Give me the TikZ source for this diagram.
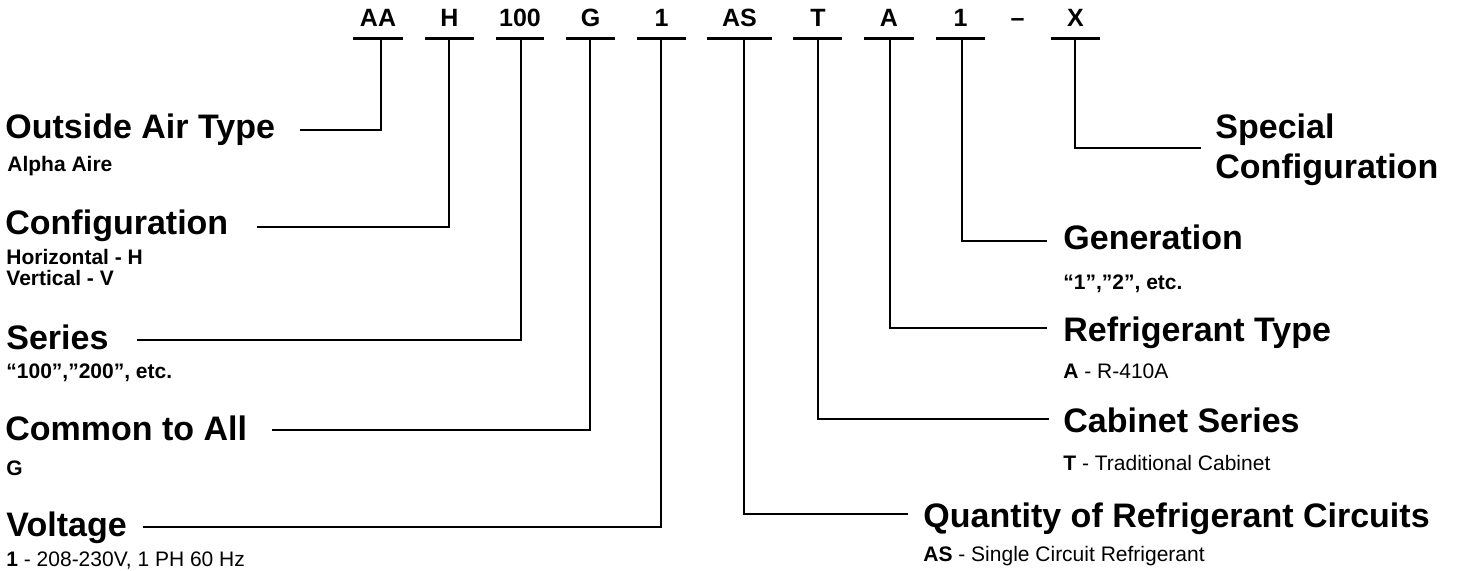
\documentclass[tikz,border=0pt]{standalone}
\usepackage{fontspec}
\setmainfont{Liberation Sans}
\begin{document}
\begin{tikzpicture}[x=0.5pt,y=-0.5pt,
  code/.style={inner sep=0pt,anchor=base,font=\fontsize{12.5}{14}\selectfont\bfseries},
  big/.style={inner sep=0pt,anchor=base west,font=\fontsize{17}{20}\selectfont\bfseries},
  small/.style={inner sep=0pt,anchor=base west,font=\fontsize{10.5}{12}\selectfont\bfseries},
  smallr/.style={inner sep=0pt,anchor=base west,font=\fontsize{10.5}{12}\selectfont},
  ul/.style={line width=1.5pt},
  conn/.style={line width=1.4pt}]
\useasboundingbox (0,0) rectangle (1460,571);
% codes
\node[code] (cAA) at (378,27) {AA};
\node[code] (cH) at (449.5,27) {H};
\node[code] (c100) at (520,27) {100};
\node[code] (cG) at (590.5,27) {G};
\node[code] (c1) at (661.5,27) {1};
\node[code] (cAS) at (739.5,27) {AS};
\node[code] (cT) at (818,27) {T};
\node[code] (cA) at (889,27) {A};
\node[code] (cGen) at (960.5,27) {1};
\node[code] (cDash) at (1017.5,27) {–};
\node[code] (cX) at (1075.5,27) {X};
% underlines
\draw[ul] (353,39) -- (403,39);
\draw[ul] (425,39) -- (474,39);
\draw[ul] (496,39) -- (544,39);
\draw[ul] (566,39) -- (615,39);
\draw[ul] (637,39) -- (686,39);
\draw[ul] (707,39) -- (772,39);
\draw[ul] (793,39) -- (842,39);
\draw[ul] (864,39) -- (914,39);
\draw[ul] (936,39) -- (985,39);
\draw[ul] (1051,39) -- (1100,39);
% connector start points
\coordinate (uAA) at (381,39);
\coordinate (uH) at (449,39);
\coordinate (u100) at (521,39);
\coordinate (uG) at (590,39);
\coordinate (u1) at (661,39);
\coordinate (uAS) at (744,39);
\coordinate (uT) at (818,39);
\coordinate (uA) at (890,39);
\coordinate (uGen) at (962,39);
\coordinate (uX) at (1075,39);
% connector end points
\coordinate (eOAT) at (300,130);
\coordinate (eCfg) at (257,227);
\coordinate (eSer) at (137,340);
\coordinate (eCom) at (272,430);
\coordinate (eVol) at (143,527);
\coordinate (eQty) at (908,514);
\coordinate (eCab) at (1049,419);
\coordinate (eRef) at (1047,328);
\coordinate (eGen) at (1047,241);
\coordinate (eSpc) at (1201,148);
% left labels
\node[big] (lOAT) at (5,139) {Outside Air Type};
\node[small] (sOAT) at (7,172) {Alpha Aire};
\node[big] (lCfg) at (5,235) {Configuration};
\node[small] (sCfg1) at (6,264.3) {Horizontal - H};
\node[small] (sCfg2) at (6,285.7) {Vertical - V};
\node[big] (lSer) at (6,349.3) {Series};
\node[small] (sSer) at (6,379) {“100”,”200”, etc.};
\node[big] (lCom) at (5,440.7) {Common to All};
\node[small] (sCom) at (6,475) {G};
\node[big] (lVol) at (6,536) {Voltage};
\node[smallr] (sVol) at (6,566) {\textbf{1} - 208-230V, 1 PH 60 Hz};
% right labels
\node[big] (lSpc1) at (1215,138.3) {Special};
\node[big] (lSpc2) at (1215,178.3) {Configuration};
\node[big] (lGen) at (1063,250) {Generation};
\node[small] (sGen) at (1063,289.3) {“1”,”2”, etc.};
\node[big] (lRef) at (1063,341.7) {Refrigerant Type};
\node[smallr] (sRef) at (1063,379) {\textbf{A} - R-410A};
\node[big] (lCab) at (1063,432.3) {Cabinet Series};
\node[smallr] (sCab) at (1063,470) {\textbf{T} - Traditional Cabinet};
\node[big] (lQty) at (923,527) {Quantity of Refrigerant Circuits};
\node[smallr] (sQty) at (923,561.7) {\textbf{AS} - Single Circuit Refrigerant};
% connectors
\draw[conn] (uAA) |- (eOAT);
\draw[conn] (uH) |- (eCfg);
\draw[conn] (u100) |- (eSer);
\draw[conn] (uG) |- (eCom);
\draw[conn] (u1) |- (eVol);
\draw[conn] (uAS) |- (eQty);
\draw[conn] (uT) |- (eCab);
\draw[conn] (uA) |- (eRef);
\draw[conn] (uGen) |- (eGen);
\draw[conn] (uX) |- (eSpc);
\end{tikzpicture}
\end{document}
